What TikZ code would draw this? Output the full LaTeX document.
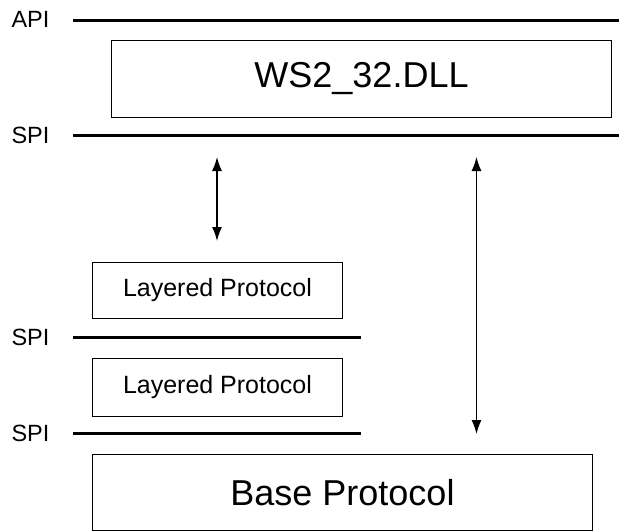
\documentclass[tikz,border=0pt]{standalone}
\usepackage{fontspec}
\setmainfont{Liberation Sans}
\usetikzlibrary{arrows.meta}
\begin{document}
\begin{tikzpicture}[x=1pt,y=-1pt,
  layerline/.style={line width=3pt},
  boxnode/.style={draw, line width=1pt, inner sep=0pt, anchor=north west},
  lbl/.style={font=\fontsize{23.5}{26}\selectfont, inner sep=0pt},
  bigtext/.style={font=\fontsize{36}{40}\selectfont, inner sep=0pt},
  smalltext/.style={font=\fontsize{25}{28}\selectfont, inner sep=0pt},
  dblarrow/.style={line width=1.3pt, {Latex[length=14pt,width=10pt]}-{Latex[length=14pt,width=10pt]}}
]
\useasboundingbox (0,0) rectangle (619,531);
% labels
\node[lbl] (api) at (30.5,19) {API};
\node[lbl] (spi1) at (30.5,135) {SPI};
\node[lbl] (spi2) at (30.5,337) {SPI};
\node[lbl] (spi3) at (30.5,433) {SPI};
% layer lines
\coordinate (apiL) at (73,20.5);  \coordinate (apiR) at (619,20.5);
\coordinate (spi1L) at (73,135.5);  \coordinate (spi1R) at (619,135.5);
\coordinate (spi2L) at (73,337.5);\coordinate (spi2R) at (361,337.5);
\coordinate (spi3L) at (73,433.5);  \coordinate (spi3R) at (361,433.5);
\draw[layerline] (apiL) -- (apiR);
\draw[layerline] (spi1L) -- (spi1R);
\draw[layerline] (spi2L) -- (spi2R);
\draw[layerline] (spi3L) -- (spi3R);
% boxes
\node[boxnode, minimum width=500pt, minimum height=77pt] (ws2) at (111,40) {};
\node[bigtext] (ws2t) at (ws2.center) {WS2\_32.DLL};
\node[boxnode, minimum width=250pt, minimum height=56pt] (lp1) at (92,262) {};
\node[smalltext] (lp1t) at (lp1.center) {Layered Protocol};
\node[boxnode, minimum width=250pt, minimum height=58pt] (lp2) at (92,357.5) {};
\node[smalltext] (lp2t) at (lp2.center) {Layered Protocol};
\node[boxnode, minimum width=500pt, minimum height=76pt] (base) at (92,454) {};
\node[bigtext] (baset) at (base.center) {Base Protocol};
% arrows
\coordinate (a1t) at (217,157);   \coordinate (a1b) at (217,241);
\coordinate (a2t) at (476.5,157); \coordinate (a2b) at (476.5,434);
\draw[dblarrow] (a1t) -- (a1b);
\draw[dblarrow] (a2t) -- (a2b);
\end{tikzpicture}
\end{document}
